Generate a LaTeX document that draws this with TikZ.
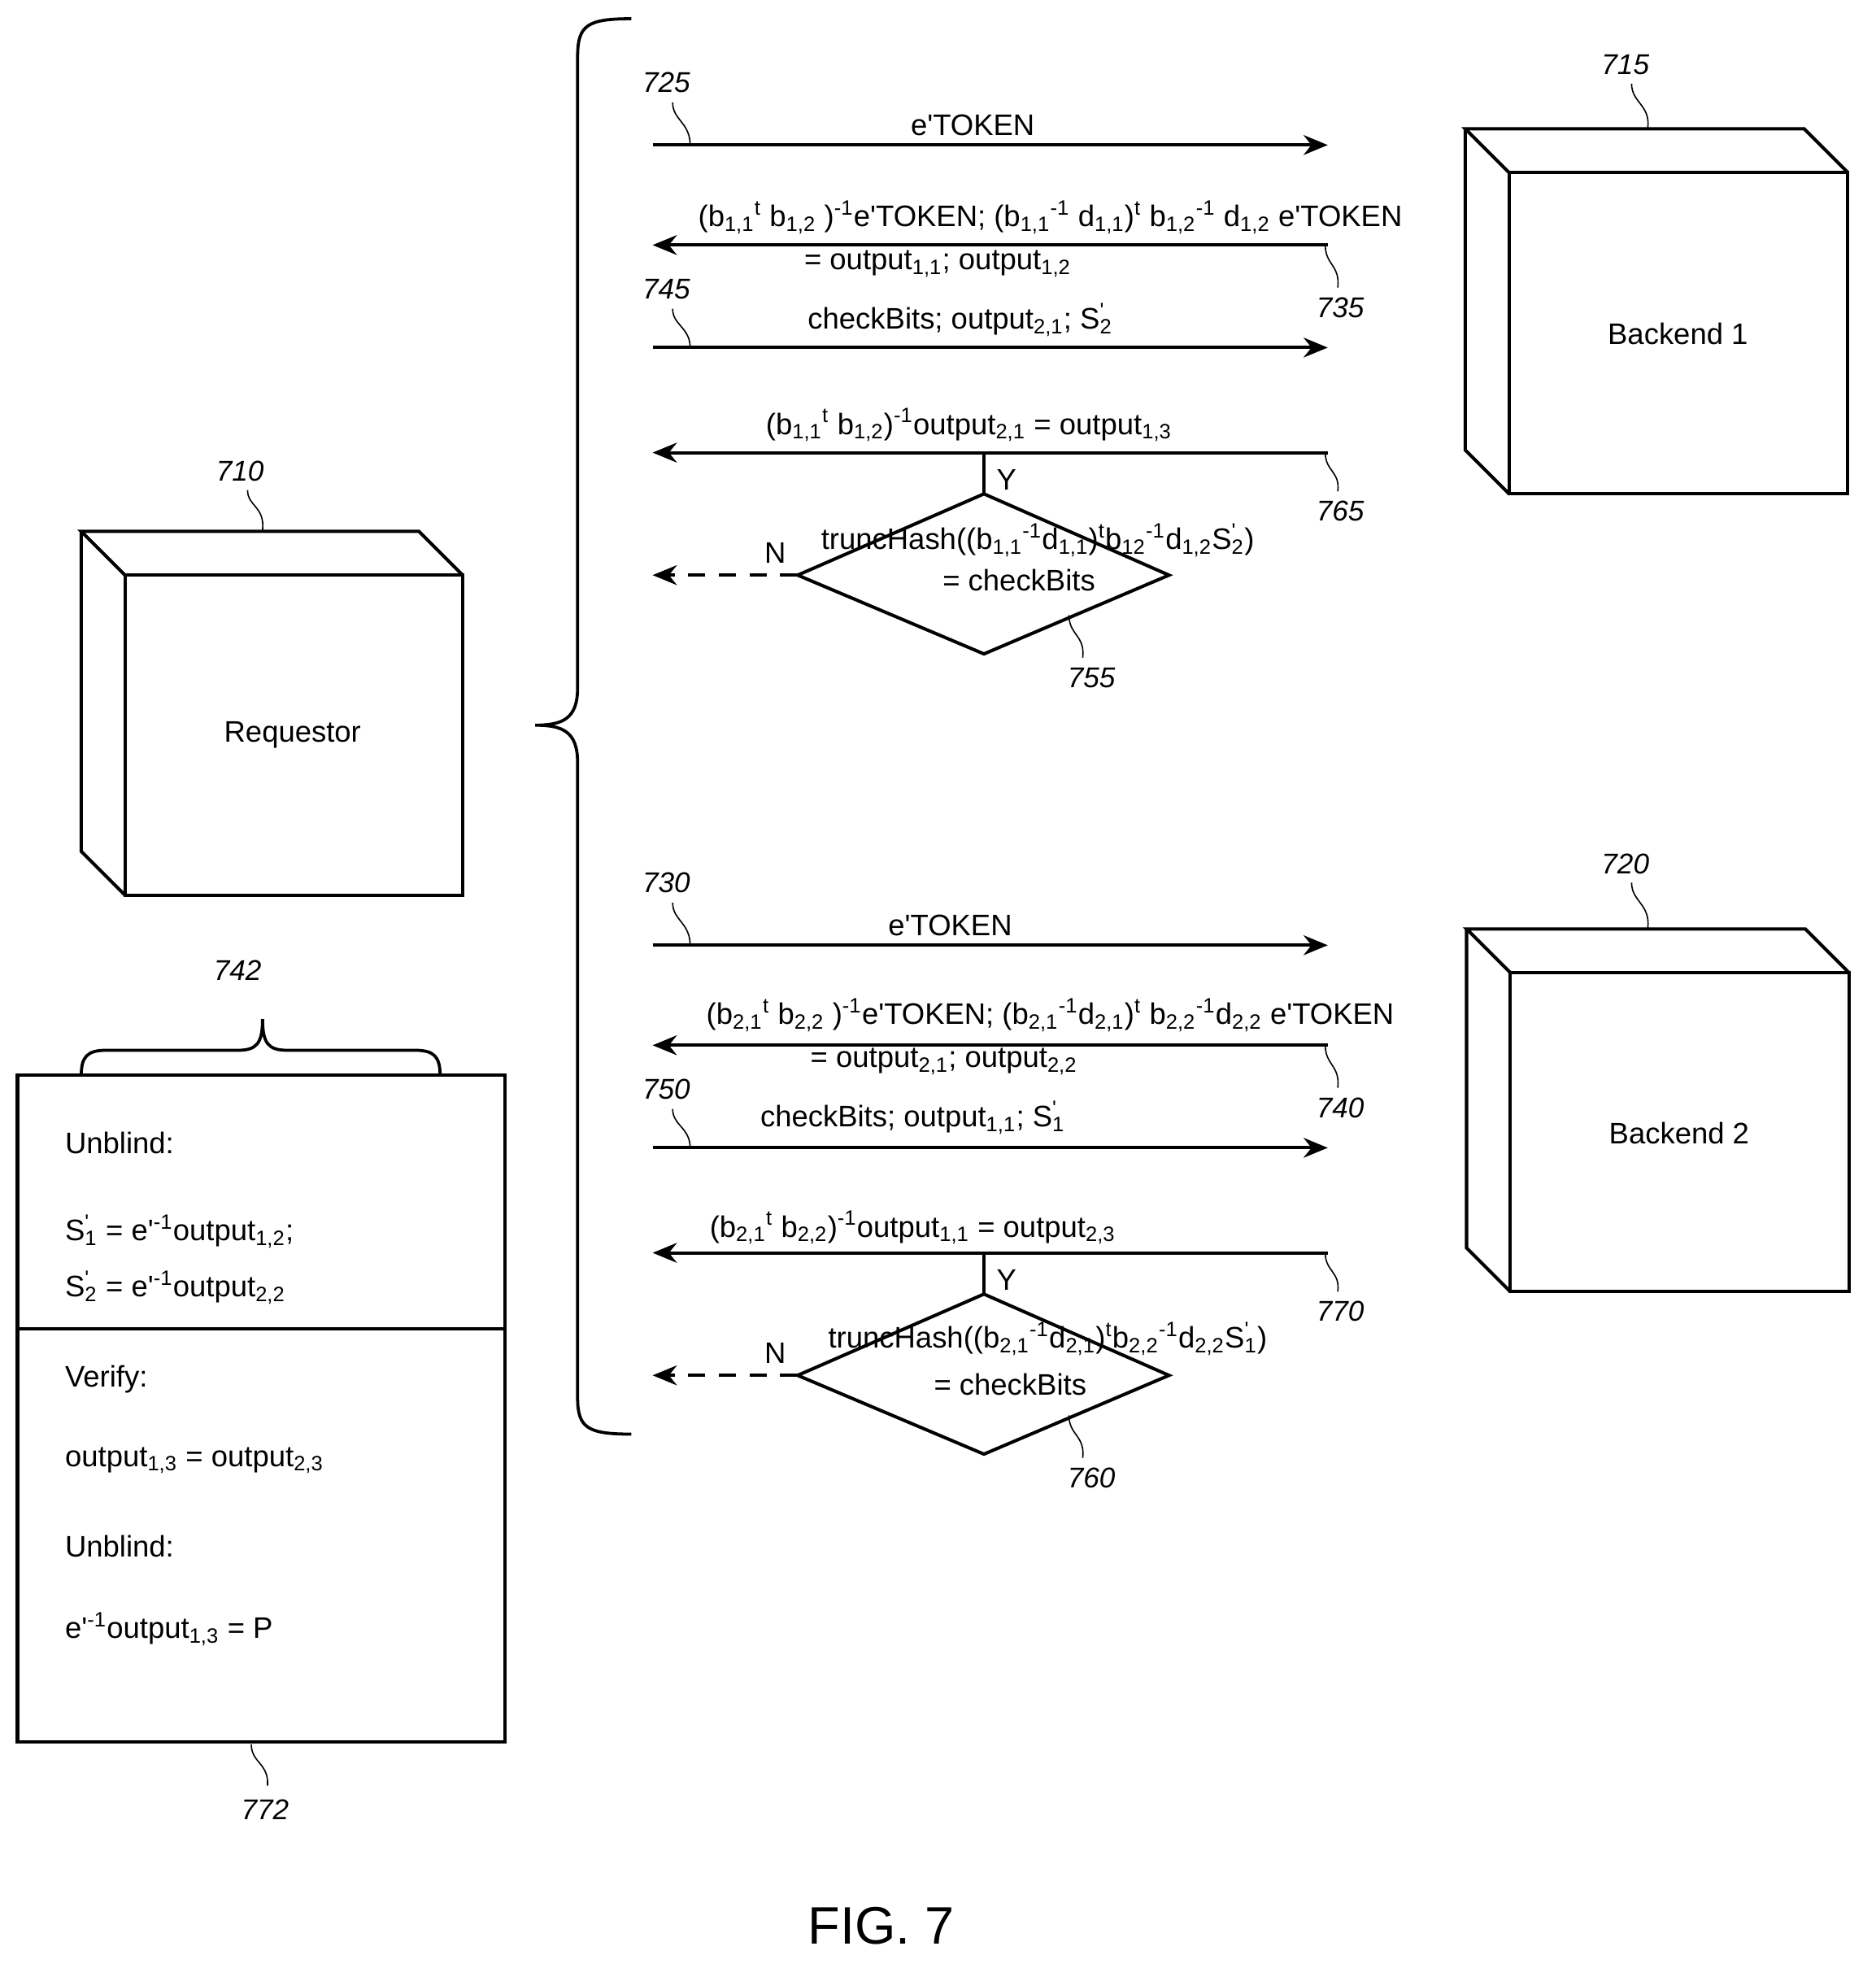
\documentclass[tikz,border=0pt]{standalone}
\usepackage{fontspec}
\setmainfont{Liberation Sans}
\usetikzlibrary{arrows.meta}
\newcommand\lo[1]{\textsubscript{#1}}
\newcommand\hi[1]{\textsuperscript{#1}}
\newcommand\Sp[1]{S\hi{\textquotesingle}\kern-0.17em\lo{#1}}
\begin{document}
\begin{tikzpicture}[x=0.02cm,y=-0.02cm,
  every node/.style={font=\fontsize{13.5}{16}\selectfont, inner sep=1pt},
  ln/.style={line width=1.5pt},
  arr/.style={line width=1.5pt,-{Stealth[length=11pt,width=9pt]}},
  lab/.style={font=\fontsize{13}{16}\selectfont\itshape},
  lead/.style={line width=0.6pt},
  txt/.style={anchor=west}]
\useasboundingbox (0,0) rectangle (1500,1574);
% boxes
\newcommand\cube[5]{% name, x1,y1,x2,y2 (front face)
  \draw[ln] (#2,#3) rectangle (#4,#5);
  \draw[ln] (#2,#3) -- ++(-35,-35) -- ++(#4-#2,0) -- (#4,#3);
  \draw[ln] (#2-35,#3-35) -- (#2-35,#5-35) -- (#2,#5);
  \node (#1) at ({(#2+#4)/2},{(#3+#5)/2}) {};}
\cube{req}{100}{460}{370}{716}
\node at (234,588) {Requestor};
\cube{be1}{1207}{138}{1478}{395}
\node at (1342,267) {Backend 1};
\cube{be2}{1208}{778}{1479}{1033}
\node at (1343,906) {Backend 2};
% big brace
\draw[ln,line width=1.4pt] (505,15) .. controls (470,15) and (462,20) .. (462,45) -- (462,550) .. controls (462,575) and (450,580) .. (428,580)
  .. controls (450,580) and (462,585) .. (462,610) -- (462,1118) .. controls (462,1142) and (470,1147) .. (505,1147);
% small brace
\draw[ln,line width=1.4pt] (65,860) .. controls (65,845) and (70,840) .. (85,840) -- (190,840) .. controls (205,840) and (210,835) .. (210,815)
  .. controls (210,835) and (215,840) .. (230,840) -- (332,840) .. controls (347,840) and (352,845) .. (352,860);
% note box
\draw[ln] (14,860) rectangle (404,1393);
\draw[ln] (14,1063) -- (404,1063);
\node[txt] at (50,914) {Unblind:};
\node[txt] at (50,985) {\Sp{1} = e\textquotesingle\hi{-1}output\lo{1,2};};
\node[txt] at (50,1030) {\Sp{2} = e\textquotesingle\hi{-1}output\lo{2,2}};
\node[txt] at (50,1103) {Verify:};
\node[txt] at (50,1168) {output\lo{1,3} = output\lo{2,3}};
\node[txt] at (50,1237) {Unblind:};
\node[txt] at (50,1303) {e\textquotesingle\hi{-1}output\lo{1,3} = P};
% reference labels
\node[lab] (l710) at (192,377) {710};
\draw[lead] (198,392) .. controls (198,405) and (212,405) .. (210,424);
\node[lab] (l715) at (1300,52) {715};
\draw[lead] (1305,67) .. controls (1305,82) and (1320,84) .. (1318,102);
\node[lab] (l720) at (1300,691) {720};
\draw[lead] (1305,706) .. controls (1305,721) and (1320,723) .. (1318,742);
\node[lab] (l742) at (190,776) {742};
\node[lab] (l772) at (212,1447) {772};
\draw[lead] (201,1395) .. controls (201,1410) and (215,1410) .. (214,1428);
\node[font=\fontsize{24}{28}\selectfont] (fig) at (705,1540) {FIG. 7};
% group macro
\newcommand\grp[7]{% dy, l1,l2,l3,l4, label diamond, texts
\begin{scope}[yshift=#1*-0.02cm]
\coordinate (L1) at (522,116); \coordinate (R1) at (1062,116);
\draw[arr] (L1) -- (R1);
\coordinate (L2) at (522,196); \coordinate (R2) at (1062,196);
\draw[arr] (R2) -- (L2);
\coordinate (L3) at (522,278); \coordinate (R3) at (1062,278);
\draw[arr] (L3) -- (R3);
\coordinate (L4) at (522,362); \coordinate (R4) at (1062,362);
\draw[arr] (R4) -- (L4);
\node[lab] at (533,66) {#2};
\draw[lead] (538,82) .. controls (538,96) and (552,98) .. (552,116);
\node[lab] at (1072,246) {#3};
\draw[lead] (1060,196) .. controls (1060,212) and (1072,212) .. (1070,230);
\node[lab] at (533,231) {#4};
\draw[lead] (538,247) .. controls (538,260) and (552,262) .. (552,278);
\node[lab] at (1072,409) {#5};
\draw[lead] (1060,362) .. controls (1060,377) and (1072,377) .. (1070,393);
\coordinate (dt) at (787,395); \coordinate (dl) at (638,460);
\coordinate (dr) at (935,460); \coordinate (db) at (787,523);
\draw[ln] (dt) -- (dr) -- (db) -- (dl) -- cycle;
\draw[ln] (787,362) -- (dt);
\node at (805,384) {Y};
\node at (620,442) {N};
\draw[arr,dashed,dash pattern=on 8pt off 6pt] (dl) -- (522,460);
\node[lab] at (873,542) {#6};
\draw[lead] (855,492) .. controls (855,508) and (868,508) .. (866,526);
#7
\end{scope}}
\grp{0}{725}{735}{745}{765}{755}{%
\node at (778,100) {e\textquotesingle TOKEN};
\node at (840,174) {(b\lo{1,1}\hi{t} b\lo{1,2} )\hi{-1}e\textquotesingle TOKEN; (b\lo{1,1}\hi{-1} d\lo{1,1})\hi{t} b\lo{1,2}\hi{-1} d\lo{1,2} e\textquotesingle TOKEN};
\node at (750,211) {= output\lo{1,1}; output\lo{1,2}};
\node at (768,256) {checkBits; output\lo{2,1}; \Sp{2}};
\node at (775,340) {(b\lo{1,1}\hi{t} b\lo{1,2})\hi{-1}output\lo{2,1} = output\lo{1,3}};
\node at (830,432) {truncHash((b\lo{1,1}\hi{-1}d\lo{1,1})\hi{t}b\lo{12}\hi{-1}d\lo{1,2}\Sp{2})};
\node at (815,464) {= checkBits};
}
\grp{640}{730}{740}{750}{770}{760}{%
\node at (760,100) {e\textquotesingle TOKEN};
\node at (840,172) {(b\lo{2,1}\hi{t} b\lo{2,2} )\hi{-1}e\textquotesingle TOKEN; (b\lo{2,1}\hi{-1}d\lo{2,1})\hi{t} b\lo{2,2}\hi{-1}d\lo{2,2} e\textquotesingle TOKEN};
\node at (755,209) {= output\lo{2,1}; output\lo{2,2}};
\node at (730,254) {checkBits; output\lo{1,1}; \Sp{1}};
\node at (730,342) {(b\lo{2,1}\hi{t} b\lo{2,2})\hi{-1}output\lo{1,1} = output\lo{2,3}};
\node at (838,431) {truncHash((b\lo{2,1}\hi{-1}d\lo{2,1})\hi{t}b\lo{2,2}\hi{-1}d\lo{2,2}\Sp{1})};
\node at (808,467) {= checkBits};
}
\end{tikzpicture}
\end{document}
